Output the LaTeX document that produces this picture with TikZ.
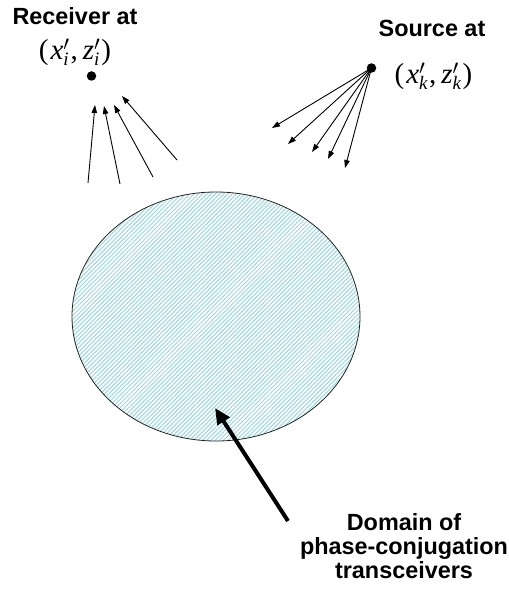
\documentclass[tikz,border=0pt]{standalone}
\usepackage{fontspec}
\setmainfont{Liberation Sans}
\newfontfamily\tms{Liberation Serif}
\usetikzlibrary{arrows.meta,patterns.meta}
\definecolor{hatch}{RGB}{165,218,224}
\newcommand\pvar[2]{\hbox{\tms\itshape #1}'_{\hbox{\tms\itshape\fontsize{19}{19}\selectfont #2}}}
\tikzset{
  lbl/.style={font=\fontsize{23.4}{24}\selectfont\bfseries, inner sep=0pt, align=center},
  coordlbl/.style={font=\fontsize{29}{32}\selectfont\tms, inner sep=0pt},
  thin arrow/.style={line width=0.9pt, -{Triangle[length=8pt,width=5.5pt]}},
  thick arrow/.style={line width=4pt, -{Triangle[length=16pt,width=14pt]}},
  dotst/.style={circle, fill=black, inner sep=0pt, minimum size=9.5pt},
}
\begin{document}
\begin{tikzpicture}[x=1pt,y=-1pt]
\useasboundingbox (0,0) rectangle (508,596);
% domain
\path[pattern={Lines[angle=45,distance=3pt,line width=1.2pt]}, pattern color=hatch]
  (216,316.5) ellipse [x radius=144, y radius=124.5];
\draw[line width=0.8pt, black!85] (216,316.5) ellipse [x radius=144, y radius=124.5];
% receiver
\node[lbl] (rxlab) at (75,16) {Receiver at};
\node[coordlbl] (rxpos) at (75,52) {(\kern2pt$\pvar{x}{i}$\kern1pt,\kern5pt$\pvar{z}{i}$\kern1pt)};
\node[dotst] (rx) at (91.5,76) {};
% receiver arrows
\coordinate (ra1) at (88,183);  \coordinate (rb1) at (95,105);
\coordinate (ra2) at (120,184); \coordinate (rb2) at (104,106);
\coordinate (ra3) at (153,177); \coordinate (rb3) at (114,105);
\coordinate (ra4) at (177,160); \coordinate (rb4) at (122,96);
\foreach \i in {1,...,4} \draw[thin arrow] (ra\i) -- (rb\i);
% source
\node[lbl] (srclab) at (432,28) {Source at};
\node[coordlbl] (srcpos) at (433.5,76) {(\kern2pt$\pvar{x}{k}$\kern1pt,\kern5pt$\pvar{z}{k}$\kern1pt)};
\node[dotst] (src) at (371.5,68) {};
\coordinate (s1) at (272,128);
\coordinate (s2) at (288,144);
\coordinate (s3) at (312,152);
\coordinate (s4) at (328,159);
\coordinate (s5) at (345,168);
\foreach \i in {1,...,5} \draw[thin arrow] (src.center) -- (s\i);
% domain label
\node[lbl] (dom) at (404,546) {Domain of\\phase-conjugation\\transceivers};
\coordinate (dtip) at (215,408);
\coordinate (dtail) at (288,521);
\draw[thick arrow] (dtail) -- (dtip);
\end{tikzpicture}
\end{document}
